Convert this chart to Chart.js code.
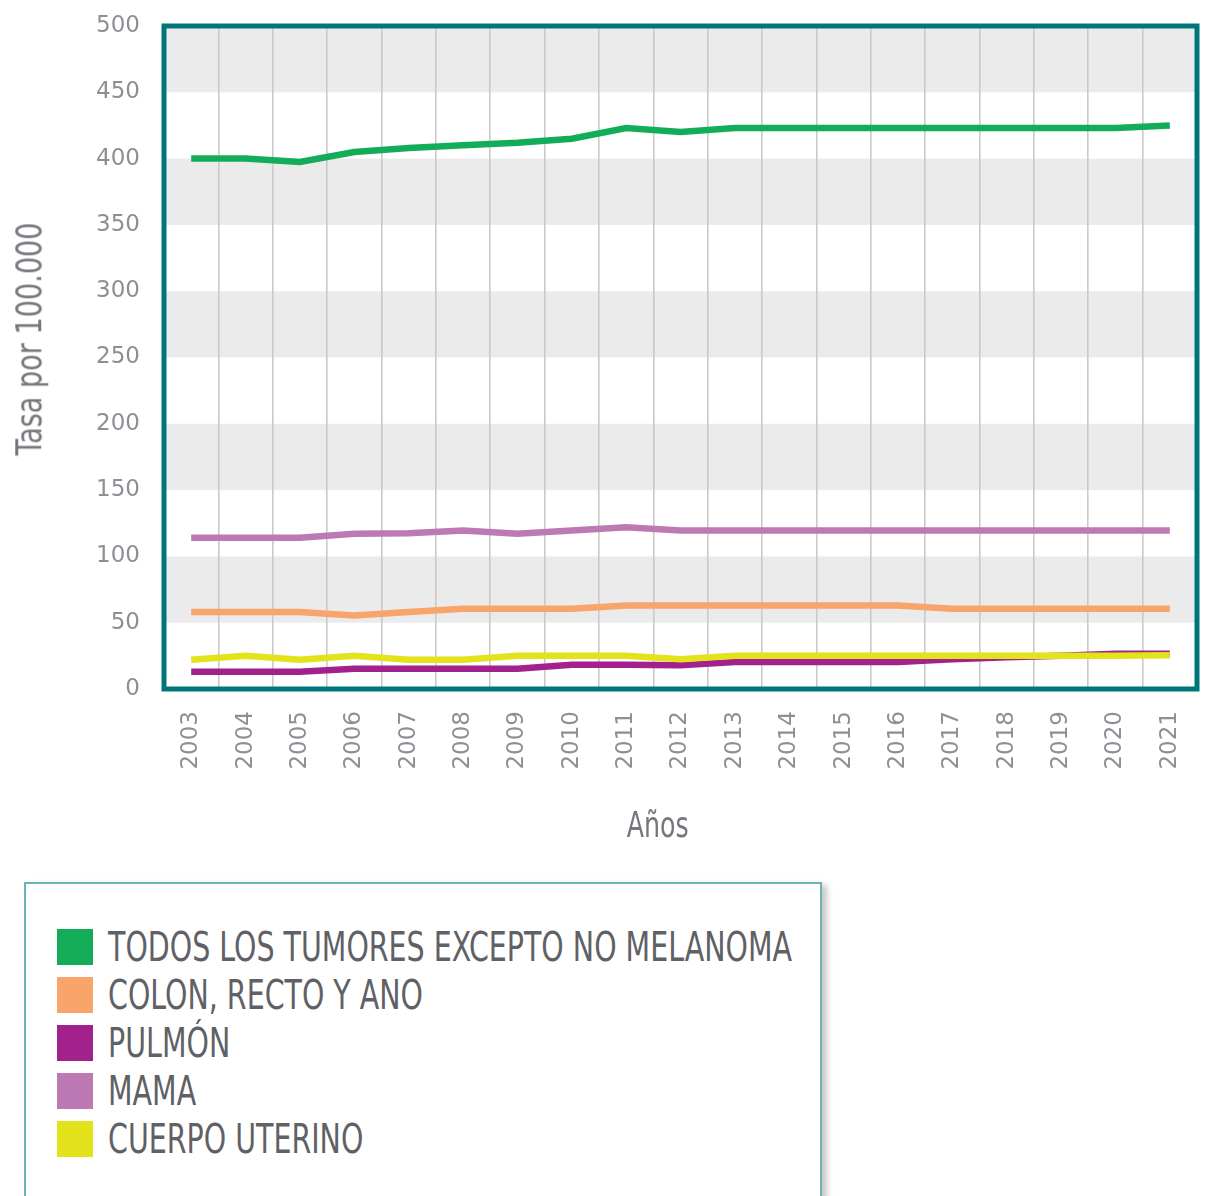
<!DOCTYPE html>
<html>
<head>
<meta charset="utf-8">
<script src="https://cdn.jsdelivr.net/npm/chart.js@4.4.1/dist/chart.umd.min.js"></script>
<style>
  html, body { margin: 0; padding: 0; background: #ffffff; overflow: hidden; }
  #wrap { position: relative; width: 1210px; height: 1196px; }
  #chartBox { position: absolute; left: 0; top: 0; width: 1210px; height: 860px; }
  #legend {
    position: absolute; left: 24px; top: 882px; width: 798px; height: 360px;
    border: 2px solid #6fb2b4; box-shadow: 5px 3px 6px rgba(0,0,0,0.22);
    background: #fff; box-sizing: border-box;
  }
  .item { position: absolute; left: 31px; height: 36px; display: flex; align-items: center; }
  .sw { width: 36px; height: 36px; flex: none; }
  .lbl, .ttl { font-family: "DejaVu Sans Condensed", "Liberation Sans Narrow", "Liberation Sans", sans-serif;
         white-space: nowrap; }
  .lbl { margin-left: 15px; font-size: 40px; color: #5f6165; transform-origin: left center; line-height: 36px; }
  .ttl { position: absolute; color: #74777b; font-size: 36px; line-height: 1; transform-origin: center center; }
</style>
</head>
<body>
<div id="wrap">
  <div id="chartBox"><canvas id="c" width="1210" height="860"></canvas></div>
  <div class="ttl" id="ytitle"></div>
  <div class="ttl" id="xtitle"></div>
  <div id="legend"></div>
</div>
<script>
const years = ["2003","2004","2005","2006","2007","2008","2009","2010","2011","2012","2013","2014","2015","2016","2017","2018","2019","2020","2021"];
const todos   = [400, 400, 397.5, 405, 408, 410, 412, 415, 423, 420, 423, 423, 423, 423, 423, 423, 423, 423, 425];
const colon   = [58, 58, 58, 55.5, 58, 60.5, 60.5, 60.5, 63, 63, 63, 63, 63, 63, 60.5, 60.5, 60.5, 60.5, 60.5];
const pulmon  = [13, 13, 13, 15.3, 15.3, 15.3, 15.3, 18.3, 18.3, 18, 20.4, 20.4, 20.4, 20.4, 22.5, 24, 25, 26.6, 26.6];
const mama    = [114, 114, 114, 117, 117.5, 119.5, 117, 119.5, 122, 119.5, 119.5, 119.5, 119.5, 119.5, 119.5, 119.5, 119.5, 119.5, 119.5];
const cuerpo  = [22, 25, 22, 25, 22, 22, 25, 25, 25, 22.5, 25, 25, 25, 25, 25, 25, 25, 25, 25.5];
const seriesNames = ["TODOS LOS TUMORES EXCEPTO NO MELANOMA", "COLON, RECTO Y ANO", "PULMÓN", "MAMA", "CUERPO UTERINO"];
const seriesColors = ["#13ad5a", "#f8a46b", "#a3218d", "#bd79b3", "#e2e31b"];
const yTicks = [0, 50, 100, 150, 200, 250, 300, 350, 400, 450, 500];
const yTitle = "Tasa por 100.000";
const xTitle = "Años";

const TICK_COLOR = "#8c9095";
const TEAL = "#00767a";

const bandsPlugin = {
  id: "bands",
  beforeDraw(chart) {
    const { ctx, chartArea: a, scales: { y } } = chart;
    ctx.save();
    ctx.fillStyle = "#ecebec";
    for (let k = 1; k < yTicks.length - 1; k += 2) {
      const top = y.getPixelForValue(yTicks[k + 1]);
      const bot = y.getPixelForValue(yTicks[k]);
      ctx.fillRect(a.left, top, a.right - a.left, bot - top);
    }
    ctx.restore();
  },
  afterDraw(chart) {
    const { ctx, chartArea: a } = chart;
    ctx.save();
    ctx.strokeStyle = TEAL;
    ctx.lineWidth = 5;
    ctx.strokeRect(a.left, a.top, a.right - a.left, a.bottom - a.top);
    ctx.restore();
  }
};

const dataArrays = [todos, colon, pulmon, mama, cuerpo];
const drawOrder = [1, 3, 4, 2, 0];
const datasets = dataArrays.map((d, i) => ({
  label: seriesNames[i],
  data: d,
  borderColor: seriesColors[i],
  backgroundColor: seriesColors[i],
  borderWidth: 6.5,
  pointRadius: 0,
  tension: 0,
  fill: false,
  order: drawOrder[i]
}));

new Chart(document.getElementById("c"), {
  type: "line",
  data: { labels: years, datasets },
  plugins: [bandsPlugin],
  options: {
    responsive: false,
    animation: false,
    layout: { padding: { top: 26, right: 13, left: 0, bottom: 0 } },
    plugins: { legend: { display: false }, tooltip: { enabled: false } },
    scales: {
      x: {
        offset: true,
        grid: { display: true, offset: true, color: "#cbc9c9", lineWidth: 1.6, drawTicks: false },
        border: { display: false },
        ticks: { color: TICK_COLOR, font: { family: "DejaVu Sans", size: 23 }, minRotation: 90, maxRotation: 90, padding: 22, autoSkip: false },
        afterFit(s) { s.height = 171; s.paddingLeft = 0; s.paddingRight = 0; }
      },
      y: {
        min: 0, max: 500,
        afterBuildTicks(s) { s.ticks = yTicks.map(v => ({ value: v })); },
        grid: { display: false, drawTicks: false },
        border: { display: false },
        ticks: { color: TICK_COLOR, font: { family: "DejaVu Sans", size: 23 }, padding: 24 },
        afterFit(s) { s.width = 164; s.paddingTop = 0; s.paddingBottom = 0; }
      }
    }
  }
});

// Axis titles (HTML text, condensed)
function placeTitle(el, text, cx, cy, targetW, rotate) {
  el.textContent = text;
  const r = el.getBoundingClientRect();
  const sx = targetW / r.width;
  el.style.left = (cx - r.width / 2) + "px";
  el.style.top = (cy - r.height / 2) + "px";
  el.style.transform = (rotate ? "rotate(-90deg) " : "") + "scaleX(" + sx + ")";
}
placeTitle(document.getElementById("ytitle"), yTitle, 29, 339, 233, true);
placeTitle(document.getElementById("xtitle"), xTitle, 658, 825, 62, false);

// HTML legend
const legend = document.getElementById("legend");
const rowTops = [45, 93, 141, 189, 237];
const labels = [];
seriesNames.forEach((name, i) => {
  const it = document.createElement("div");
  it.className = "item";
  it.style.top = rowTops[i] + "px";
  const sw = document.createElement("div");
  sw.className = "sw";
  sw.style.background = seriesColors[i];
  const lb = document.createElement("span");
  lb.className = "lbl";
  lb.textContent = name;
  it.appendChild(sw); it.appendChild(lb);
  legend.appendChild(it);
  labels.push(lb);
});
const w0 = labels[0].getBoundingClientRect().width;
const sx = 684 / w0;
labels.forEach(l => { l.style.transform = "scaleX(" + sx + ")"; });
</script>
</body>
</html>
